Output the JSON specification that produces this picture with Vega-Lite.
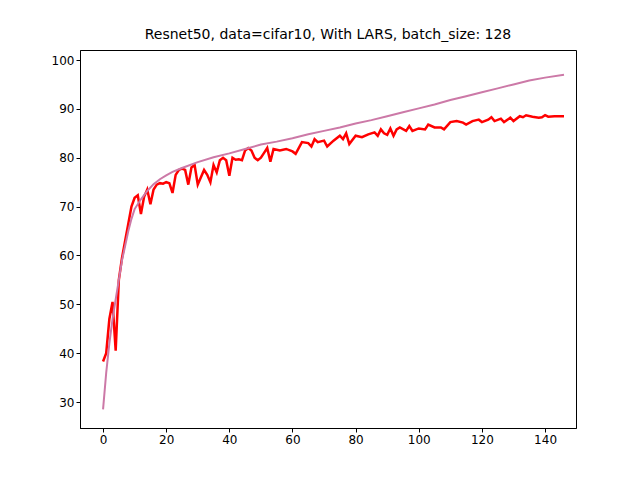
{"$schema":"https://vega.github.io/schema/vega-lite/v6.json","width":496,"height":378,"background":"white","padding":{"left":80,"top":50,"right":64,"bottom":52},"autosize":"none",
"title":{"text":"Resnet50, data=cifar10, With LARS, batch_size: 128","font":"DejaVu Sans","fontSize":14,"fontWeight":"normal","offset":8},
"datasets":{"train":[
{"e":0,"v":28.5},{"e":1,"v":36},{"e":2,"v":42},{"e":3,"v":47},{"e":4,"v":51},{"e":5,"v":55},{"e":6,"v":59},{"e":7,"v":62},{"e":8,"v":65},{"e":9,"v":67.5},{"e":10,"v":69.5},{"e":12,"v":71.5},{"e":14,"v":73.2},{"e":16,"v":74.6},{"e":18,"v":75.6},{"e":20,"v":76.4},{"e":22,"v":77.1},{"e":25,"v":77.9},{"e":30,"v":79.1},{"e":35,"v":80.1},{"e":40,"v":80.9},{"e":45,"v":81.8},{"e":50,"v":82.7},{"e":55,"v":83.3},{"e":60,"v":84},{"e":65,"v":84.8},{"e":70,"v":85.5},{"e":75,"v":86.2},{"e":80,"v":87},{"e":85,"v":87.7},{"e":90,"v":88.5},{"e":95,"v":89.3},{"e":100,"v":90.1},{"e":105,"v":90.9},{"e":110,"v":91.8},{"e":115,"v":92.6},{"e":120,"v":93.4},{"e":125,"v":94.2},{"e":130,"v":95},{"e":135,"v":95.8},{"e":140,"v":96.4},{"e":146,"v":97}],
"test":[
{"e":0,"v":38.3},{"e":1,"v":40},{"e":2,"v":47},{"e":3,"v":50.5},{"e":4,"v":40.5},{"e":5,"v":55},{"e":6,"v":59.5},{"e":7,"v":63},{"e":8,"v":66.5},{"e":9,"v":70},{"e":10,"v":71.8},{"e":11,"v":72.3},{"e":12,"v":68.5},{"e":13,"v":72},{"e":14,"v":73.5},{"e":15,"v":70.5},{"e":16,"v":73.5},{"e":17,"v":74.5},{"e":18,"v":74.8},{"e":19,"v":74.7},{"e":20,"v":75},{"e":21,"v":74.8},{"e":22,"v":72.8},{"e":23,"v":76.5},{"e":24,"v":77.5},{"e":25,"v":77.8},{"e":26,"v":77.5},{"e":27,"v":74.5},{"e":28,"v":78},{"e":29,"v":78.5},{"e":30,"v":74.5},{"e":31,"v":76},{"e":32,"v":77.5},{"e":33,"v":76.5},{"e":34,"v":75},{"e":35,"v":78.5},{"e":36,"v":77},{"e":37,"v":79.5},{"e":38,"v":80},{"e":39,"v":79.5},{"e":40,"v":76.3},{"e":41,"v":80},{"e":42,"v":79.6},{"e":43,"v":79.7},{"e":44,"v":79.5},{"e":45,"v":81.5},{"e":46,"v":82},{"e":47,"v":81.5},{"e":48,"v":80},{"e":49,"v":79.5},{"e":50,"v":80},{"e":51,"v":81},{"e":52,"v":82},{"e":53,"v":79.2},{"e":54,"v":81.8},{"e":56,"v":81.5},{"e":58,"v":81.8},{"e":60,"v":81.3},{"e":61,"v":80.8},{"e":63,"v":83.2},{"e":65,"v":83},{"e":66,"v":82.3},{"e":67,"v":83.8},{"e":68,"v":83.2},{"e":70,"v":83.5},{"e":71,"v":82.3},{"e":73,"v":83.5},{"e":75,"v":84.5},{"e":76,"v":83.8},{"e":77,"v":85},{"e":78,"v":82.8},{"e":80,"v":84.5},{"e":82,"v":84.2},{"e":84,"v":84.8},{"e":86,"v":85.2},{"e":87,"v":84.5},{"e":88,"v":85.8},{"e":89,"v":85},{"e":90,"v":84.7},{"e":91,"v":86},{"e":92,"v":84.5},{"e":93,"v":85.8},{"e":94,"v":86.2},{"e":96,"v":85.5},{"e":97,"v":86.5},{"e":98,"v":85.5},{"e":100,"v":86},{"e":102,"v":85.8},{"e":103,"v":86.8},{"e":105,"v":86.2},{"e":107,"v":86.2},{"e":108,"v":85.8},{"e":110,"v":87.3},{"e":112,"v":87.5},{"e":114,"v":87.2},{"e":115,"v":86.8},{"e":117,"v":87.5},{"e":119,"v":87.8},{"e":120,"v":87.3},{"e":122,"v":87.8},{"e":123,"v":88.3},{"e":124,"v":87.5},{"e":126,"v":88},{"e":127,"v":87.3},{"e":129,"v":88.2},{"e":130,"v":87.5},{"e":132,"v":88.5},{"e":133,"v":88.3},{"e":134,"v":88.7},{"e":136,"v":88.4},{"e":138,"v":88.2},{"e":139,"v":88.3},{"e":140,"v":88.7},{"e":141,"v":88.4},{"e":143,"v":88.5},{"e":146,"v":88.5}]},
"encoding":{"x":{"field":"e","type":"quantitative","scale":{"domain":[-7.3,149.8],"nice":false,"zero":false},"axis":{"values":[0,20,40,60,80,100,120,140],"title":null,"grid":false,"labelFont":"DejaVu Sans","labelFontSize":12,"labelColor":"black","tickColor":"black","domainColor":"black","tickSize":4}},
"y":{"field":"v","type":"quantitative","scale":{"domain":[24.7,102.05],"nice":false,"zero":false},"axis":{"values":[30,40,50,60,70,80,90,100],"title":null,"grid":false,"labelFont":"DejaVu Sans","labelFontSize":12,"labelColor":"black","tickColor":"black","domainColor":"black","tickSize":4}}},
"layer":[
{"data":{"name":"test"},"mark":{"type":"line","color":"#ff0000","strokeWidth":2.5,"clip":true}},
{"data":{"name":"train"},"mark":{"type":"line","color":"#cc79a7","strokeWidth":2,"clip":true}}
],
"config":{"view":{"stroke":"black"}}}
